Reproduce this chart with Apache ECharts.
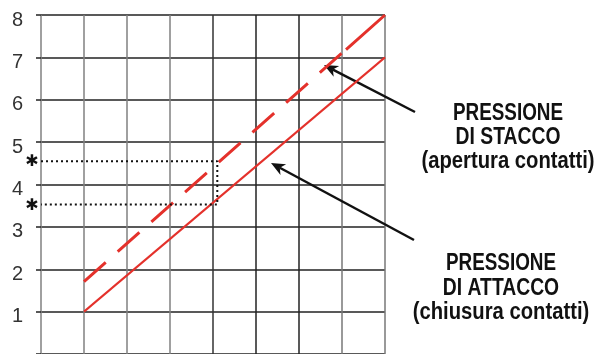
<!DOCTYPE html>
<html>
<head>
<meta charset="utf-8">
<script src="https://cdn.jsdelivr.net/npm/echarts@6/dist/echarts.min.js"></script>
<style>
  html, body { margin: 0; padding: 0; background: #fff; }
  #chart { width: 597px; height: 354px; }
</style>
</head>
<body>
<div id="chart"></div>
<script>
// values
const yTicks = [1, 2, 3, 4, 5, 6, 7, 8];
const attaccoX = [1, 8];
const attaccoY = [1, 7];
const staccoX = [1, 8];
const staccoY = [1.71, 8];
const refX = [0, 4.1, 4.1, 0];
const refY = [4.55, 4.55, 3.53, 3.53];
const starY = [4.55, 3.53];
const staccoText = ['PRESSIONE', 'DI STACCO', '(apertura contatti)'];
const attaccoText = ['PRESSIONE', 'DI ATTACCO', '(chiusura contatti)'];

const vColors = ['#808080', '#808080', '#808080', '#808080', '#333', '#222', '#222', '#777', '#777'];

let chart = echarts.init(document.getElementById('chart'));
let option = {
    animation: false,
    grid: { left: 41, right: 212, top: 15, bottom: -5 },
    xAxis: {
        type: 'value', min: 0, max: 8, interval: 1,
        axisLine: { show: false }, axisTick: { show: false }, axisLabel: { show: false },
        splitLine: { lineStyle: { color: vColors, width: 1.5 } }
    },
    yAxis: {
        type: 'value', min: 0, max: 8, interval: 1,
        axisLine: { show: false },
        axisTick: { show: true, length: 5, lineStyle: { color: '#222', width: 1.5 } },
        axisLabel: {
            margin: 18, fontSize: 20, color: '#333', fontFamily: 'Liberation Sans',
            verticalAlign: 'top', lineHeight: 10,
            formatter: v => yTicks.indexOf(v) >= 0 ? String(v) : ''
        },
        splitLine: { lineStyle: { color: '#222', width: 1.5 } }
    },
    series: [
        {
            name: 'attacco', type: 'line', symbol: 'none',
            data: attaccoX.map((x, i) => [x, attaccoY[i]]),
            lineStyle: { color: '#e4312b', width: 2 }
        },
        {
            name: 'stacco', type: 'line', symbol: 'none',
            data: staccoX.map((x, i) => [x, staccoY[i]]),
            lineStyle: { color: '#e4312b', width: 3,
                type: [29, 16, 29, 16, 29, 16, 29, 16, 29, 16, 29, 16, 29, 16, 29, 6, 60] }
        },
        {
            name: 'ref', type: 'line', symbol: 'none', clip: false,
            data: refX.map((x, i) => [x, refY[i]]),
            lineStyle: { color: '#111', width: 2, type: [2, 3] }
        }
    ]
};
chart.setOption(option);

// annotations: asterisks, arrows and labels
function arrow(x1, y1, x2, y2) {
    const ang = Math.atan2(y2 - y1, x2 - x1);
    const L = 14, W = 6;
    const bx = x2 - L * Math.cos(ang), by = y2 - L * Math.sin(ang);
    const nx = -Math.sin(ang), ny = Math.cos(ang);
    const mx = x2 - 10 * Math.cos(ang), my = y2 - 10 * Math.sin(ang);
    return [
        { type: 'line', shape: { x1: x1, y1: y1, x2: mx, y2: my }, style: { stroke: '#111', lineWidth: 2.5 } },
        { type: 'polygon', shape: { points: [[x2, y2], [bx + nx * W, by + ny * W], [mx, my], [bx - nx * W, by - ny * W]] },
          style: { fill: '#111' } }
    ];
}
let g = [];
starY.forEach(v => {
    const p = chart.convertToPixel({ gridIndex: 0 }, [0, v]);
    g.push({ type: 'text', x: p[0] - 9, y: p[1] + 1,
        style: { text: '\u2731', font: 'bold 16px "DejaVu Sans"', fill: '#111', align: 'center', verticalAlign: 'middle' } });
});
g = g.concat(arrow(415, 112, 324, 65));
g = g.concat(arrow(414, 240, 271, 163));
const font = 'bold 23px "Liberation Sans"';
const scales = [0.82, 0.84, 0.88];
staccoText.forEach((t, i) => {
    g.push({ type: 'text', x: 508, y: 114 + i * 24, scaleX: scales[i],
        style: { text: t, font: font, fill: '#111', align: 'center', verticalAlign: 'middle' } });
});
attaccoText.forEach((t, i) => {
    g.push({ type: 'text', x: 501, y: 264 + i * 24.5, scaleX: scales[i],
        style: { text: t, font: font, fill: '#111', align: 'center', verticalAlign: 'middle' } });
});
chart.setOption({ graphic: g });
</script>
</body>
</html>
